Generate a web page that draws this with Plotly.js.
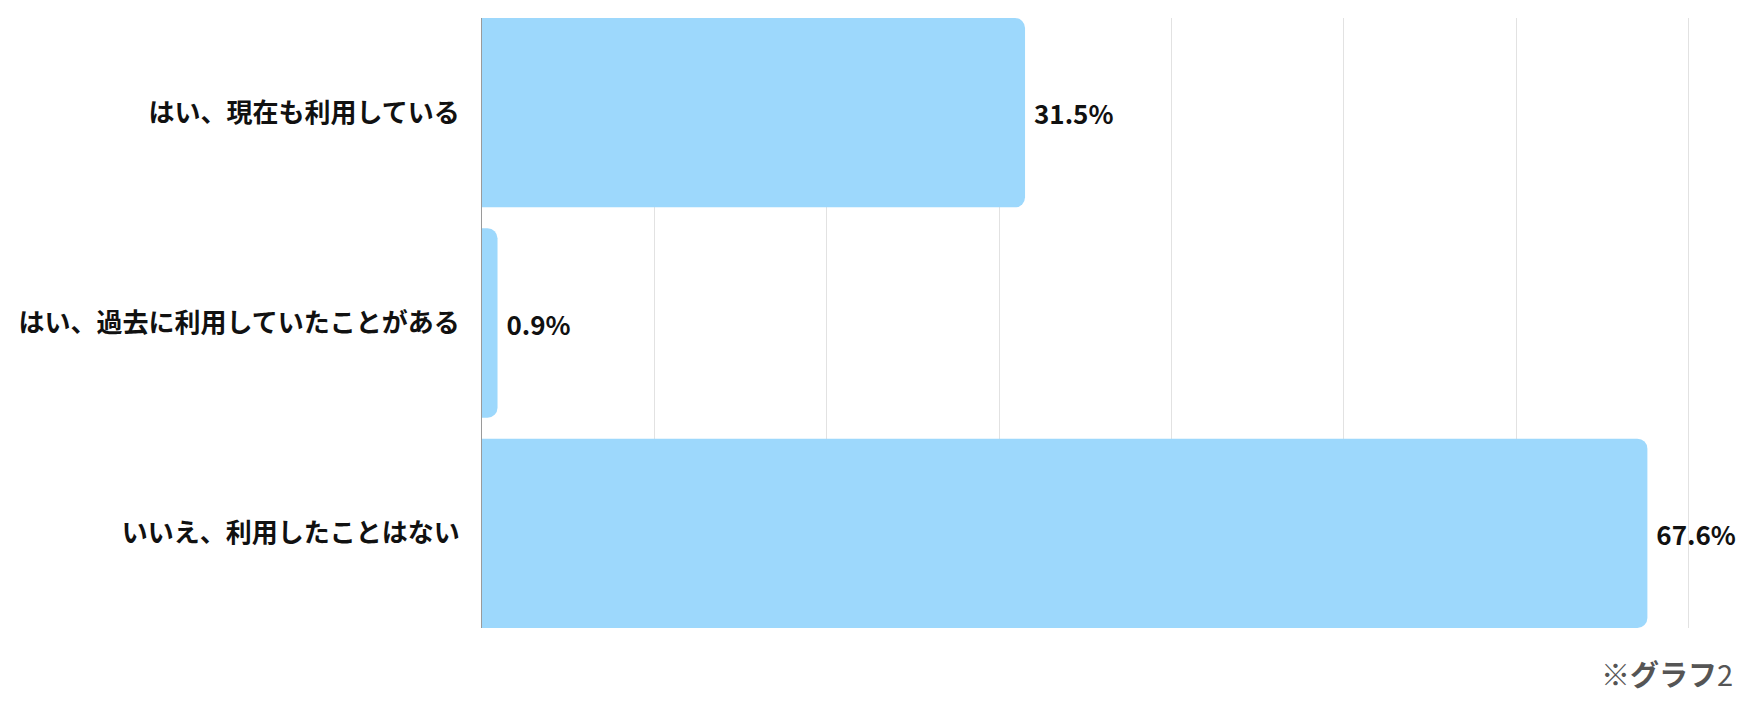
<!DOCTYPE html>
<html>
<head>
<meta charset="utf-8">
<script src="https://cdn.plot.ly/plotly-3.0.1.min.js"></script>
<style>html,body{margin:0;padding:0;background:#fff;}</style>
</head>
<body>
<div id="chart" style="width:1755px;height:708px;"></div>
<script>
const categories = ["はい、現在も利用している", "はい、過去に利用していたことがある", "いいえ、利用したことはない"];
const values = [31.5, 0.9, 67.6];
const footnoteLabel = "※グラフ";
const footnoteNumber = "2";

const FONT = '"Noto Sans CJK JP", "Noto Sans", sans-serif';

const trace = {
  type: 'bar',
  orientation: 'h',
  y: categories,
  x: values,
  marker: { color: '#9dd8fc', cornerradius: 10, line: { width: 0 } },
  texttemplate: ' %{x:.1f}%',
  textposition: 'outside',
  cliponaxis: false,
  textfont: { family: FONT, size: 26, color: '#111', weight: 'bold' },
  hoverinfo: 'skip'
};

const layout = {
  width: 1755,
  height: 708,
  margin: { l: 482, r: 49, t: 18, b: 80 },
  paper_bgcolor: '#fff',
  plot_bgcolor: '#fff',
  showlegend: false,
  bargap: 0.1,
  xaxis: {
    range: [0, 71],
    dtick: 10,
    tick0: 0,
    showgrid: true,
    gridcolor: '#e2e2e2',
    gridwidth: 1,
    zeroline: false,
    showticklabels: false,
    showline: false,
    fixedrange: true
  },
  yaxis: {
    type: 'category',
    range: [2.45, -0.45],
    showline: true,
    linecolor: '#9a9a9a',
    linewidth: 1,
    showgrid: false,
    zeroline: false,
    ticks: '',
    ticklabelstandoff: 16,
    tickfont: { family: FONT, size: 26, color: '#111', weight: 'bold' },
    fixedrange: true
  },
  annotations: [{
    text: '<b>' + footnoteLabel + '</b>' + footnoteNumber,
    xref: 'paper', yref: 'paper',
    x: (1735 - 482) / (1755 - 482 - 49), y: -(673 - 628) / 610,
    xanchor: 'right', yanchor: 'middle',
    showarrow: false,
    font: { family: FONT, size: 29, color: '#555' }
  }]
};

Plotly.newPlot('chart', [trace], layout, { displayModeBar: false, staticPlot: true });
</script>
</body>
</html>
